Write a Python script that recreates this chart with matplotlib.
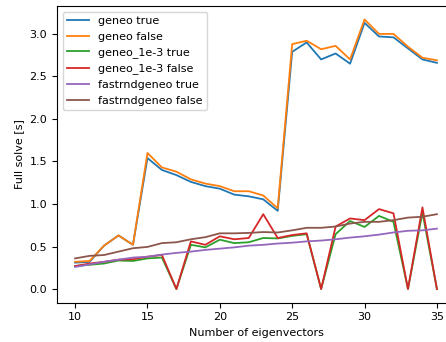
import matplotlib
matplotlib.use('Agg')
import matplotlib.pyplot as plt
import numpy as np

# liczba wektorów własnych
n_eig = list(range(10, 36))

geneo_true = [0.31, 0.32, 0.51, 0.63, 0.52, 1.54, 1.40, 1.34, 1.26, 1.21, 1.18, 1.11, 1.09,
              1.055, 0.92, 2.79, 2.90, 2.70, 2.77, 2.65, 3.13, 2.97, 2.96, 2.83, 2.70, 2.66]
geneo_false = [0.32, 0.33, 0.51, 0.63, 0.52, 1.60, 1.43, 1.38, 1.29, 1.24, 1.21, 1.15, 1.15,
               1.10, 0.95, 2.88, 2.92, 2.82, 2.86, 2.70, 3.17, 3.00, 3.00, 2.85, 2.72, 2.69]
geneo3_true = [0.27, 0.285, 0.30, 0.335, 0.33, 0.36, 0.37, 0.0, 0.52, 0.49, 0.58, 0.54, 0.55,
               0.60, 0.595, 0.625, 0.645, 0.0, 0.645, 0.80, 0.73, 0.86, 0.79, 0.0, 0.90, 0.0]
geneo3_false = [0.27, 0.30, 0.32, 0.345, 0.35, 0.38, 0.40, 0.0, 0.56, 0.52, 0.62, 0.585, 0.60,
                0.88, 0.60, 0.635, 0.655, 0.0, 0.735, 0.83, 0.81, 0.94, 0.89, 0.0, 0.96, 0.0]
fast_true = [0.26, 0.29, 0.32, 0.345, 0.37, 0.38, 0.405, 0.425, 0.44, 0.46, 0.475, 0.49, 0.51,
             0.52, 0.535, 0.545, 0.56, 0.57, 0.585, 0.605, 0.62, 0.64, 0.665, 0.685, 0.69, 0.71]
fast_false = [0.36, 0.39, 0.40, 0.44, 0.48, 0.495, 0.54, 0.55, 0.585, 0.61, 0.655, 0.655, 0.66,
              0.67, 0.665, 0.69, 0.72, 0.72, 0.735, 0.77, 0.79, 0.79, 0.81, 0.84, 0.85, 0.88]

series = [
    ("geneo true", geneo_true),
    ("geneo false", geneo_false),
    ("geneo_1e-3 true", geneo3_true),
    ("geneo_1e-3 false", geneo3_false),
    ("fastrndgeneo true", fast_true),
    ("fastrndgeneo false", fast_false),
]

plt.rcParams['font.size'] = 8

fig = plt.figure(figsize=(4.46, 3.42), dpi=100)
ax = fig.add_axes([57 / 446, 1 - 302.5 / 342, 398 / 446, 296.5 / 342])

for name, vals in series:
    ax.plot(n_eig, vals, label=name, lw=1.3)

ax.set_xlabel('Number of eigenvectors')
ax.set_ylabel('Full solve [s]')
ax.set_xticks([10, 15, 20, 25, 30, 35])
ax.set_yticks([0.0, 0.5, 1.0, 1.5, 2.0, 2.5, 3.0])
ax.legend(loc='upper left')

fig.savefig('out.png', dpi=100)
